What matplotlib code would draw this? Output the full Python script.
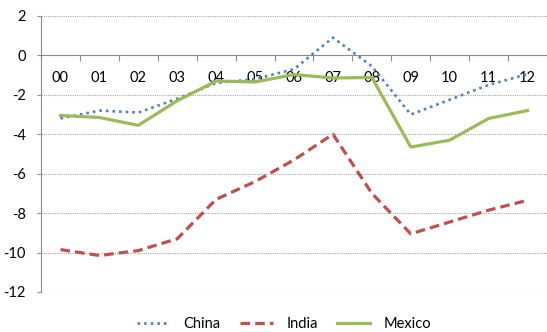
import numpy as np
import matplotlib.pyplot as plt

# Years (two-digit labels) and series values
years = ["00", "01", "02", "03", "04", "05", "06", "07", "08", "09", "10", "11", "12"]
china = [-3.2, -2.8, -2.9, -2.2, -1.4, -1.2, -0.7, 0.9, -0.55, -3.0, -2.25, -1.5, -0.95]
india = [-9.85, -10.15, -9.9, -9.3, -7.3, -6.4, -5.3, -4.0, -7.0, -9.05, -8.45, -7.85, -7.35]
mexico = [-3.05, -3.15, -3.55, -2.3, -1.3, -1.35, -0.97, -1.15, -1.12, -4.65, -4.3, -3.2, -2.8]

plt.rcParams['font.family'] = ['Lato', 'DejaVu Sans']

fig = plt.figure(figsize=(5.47, 3.32), dpi=100)
ax = fig.add_axes([0.075, 0.1205, 0.925, 0.8315])

x = np.arange(len(years))
ax.plot(x, china, color="#4F81BD", lw=1.9, linestyle=(0, (1, 1.5)), label="China")
ax.plot(x, india, color="#C0504D", lw=2.3, linestyle=(0, (3, 1.6)),
        dash_capstyle="butt", label="India")
ax.plot(x, mexico, color="#9BBB59", lw=2.3, label="Mexico")

ax.set_xlim(-0.5, 12.5)
ax.set_ylim(-12, 2)
ax.set_yticks(np.arange(-12, 3, 2))
ax.set_yticklabels([str(v) for v in range(-12, 3, 2)])

# dotted gridlines, the zero line is drawn by the x axis itself
for v in [-12, -10, -8, -6, -4, -2, 2]:
    ax.axhline(v, color="#A6A6A6", lw=0.8, linestyle=(0, (1, 1)), zorder=0)

for side in ["top", "right"]:
    ax.spines[side].set_visible(False)
ax.spines["bottom"].set_position(("data", 0))
ax.spines["bottom"].set_color("#8C8C8C")
ax.spines["left"].set_color("#8C8C8C")
ax.spines["bottom"].set_zorder(0)

# tick marks between categories, labels centred on categories
ax.set_xticks(np.arange(-0.5, 13, 1))
ax.set_xticklabels([])
ax.set_xticks(x, minor=True)
ax.set_xticklabels(years, minor=True)
ax.tick_params(axis="x", which="major", length=4, color="#8C8C8C", direction="out")
ax.tick_params(axis="x", which="minor", length=0, pad=11, labelsize=10.5)
ax.tick_params(axis="y", length=3, color="#8C8C8C", pad=8, labelsize=10.5)

ax.legend(loc="center", bbox_to_anchor=(0.48, -0.115), ncol=3, frameon=False,
          fontsize=10.5, handlelength=2.3, handletextpad=0.9, columnspacing=1.3)

fig.savefig("out.png", dpi=100)
